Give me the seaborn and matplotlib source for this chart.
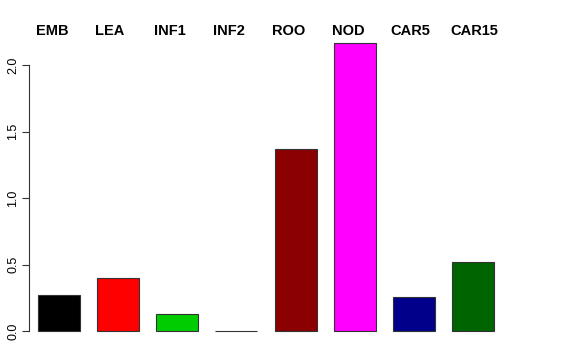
import matplotlib
matplotlib.use("Agg")
import matplotlib.pyplot as plt
import seaborn as sns
import pandas as pd
import matplotlib.transforms as mtransforms

categories = ["EMB", "LEA", "INF1", "INF2", "ROO", "NOD", "CAR5", "CAR15"]
values = [0.27, 0.40, 0.13, 0.004, 1.37, 2.17, 0.26, 0.52]
colors = ["#000000", "#FF0000", "#00CD00", "#0000FF", "#8B0000", "#FF00FF", "#00008B", "#006400"]
yticks = [0.0, 0.5, 1.0, 1.5, 2.0]
ytick_labels = ["0.0", "0.5", "1.0", "1.5", "2.0"]

sns.set_style("white")
plt.rcParams['font.family'] = ['Liberation Sans', 'DejaVu Sans']
plt.rcParams['text.color'] = 'black'
plt.rcParams['ytick.color'] = 'black'

W, H = 576, 360
fig = plt.figure(figsize=(W / 100, H / 100), dpi=100)
left, right, top, bottom = 29, 512, 31, 343
ax = fig.add_axes([left / W, 1 - bottom / H, (right - left) / W, (bottom - top) / H])

df = pd.DataFrame({"cat": categories, "val": values})
sns.barplot(data=df, x="cat", y="val", hue="cat", palette=colors, order=categories,
            hue_order=categories, legend=False, width=0.71, edgecolor="#333333",
            linewidth=0.8, saturation=1, ax=ax)

step = 59.14
x0 = (left - 59) / step
x1 = (right - 59) / step
ax.set_xlim(x0, x1)
ax.set_ylim(-0.087, 2.257)

for s in ["top", "right", "bottom"]:
    ax.spines[s].set_visible(False)
ax.spines["left"].set_bounds(0, 2.0)
ax.spines["left"].set_color("#333333")
ax.spines["left"].set_linewidth(0.8)
ax.set_xticks([])
ax.set_yticks(yticks)
ax.set_yticklabels(ytick_labels, rotation=90, va="center", fontsize=9, color="black")
ax.tick_params(axis="y", direction="out", length=5, width=0.8, color="#333333", pad=2, left=True)
ax.set_xlabel("")
ax.set_ylabel("")

trans = mtransforms.blended_transform_factory(ax.transData, ax.transAxes)
for i, c in enumerate(categories):
    ax.text(i - 0.39, 1.0, c, transform=trans, ha="left", va="center",
            fontsize=10.5, fontweight="bold", color="black", clip_on=False)

fig.savefig("out.png", dpi=100)
